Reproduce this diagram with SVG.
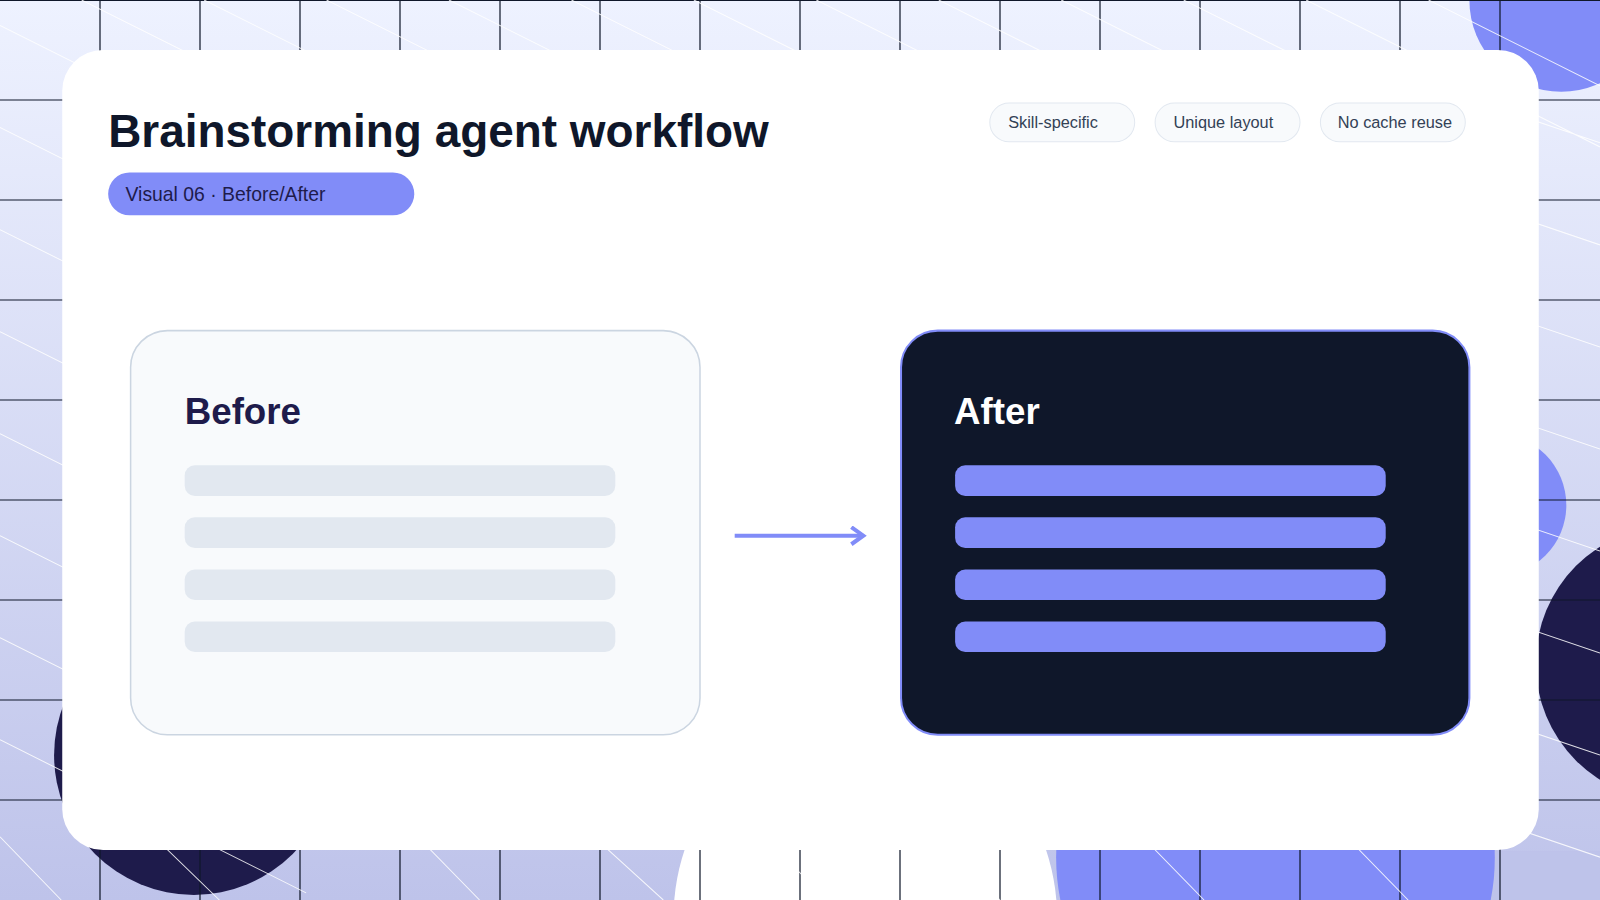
<svg xmlns="http://www.w3.org/2000/svg" width="1600" height="900" viewBox="0 0 1600 900">
<defs>
<linearGradient id="bg" x1="0" y1="0" x2="0" y2="1"><stop offset="0" stop-color="#eef2ff"/><stop offset="1" stop-color="#bec3ea"/></linearGradient>
<marker id="ah" viewBox="0 0 12 12" refX="9" refY="6" markerWidth="5" markerHeight="5" orient="auto" markerUnits="strokeWidth"><path d="M2,1 L9,6 L2,11" fill="none" stroke="#818cf8" stroke-width="2.4"/></marker>
<style>
.grid{stroke:#0f172a;stroke-width:1.2}
.diag{stroke:#ffffff;stroke-width:1;opacity:.85}
.tag rect{fill:#f8fafc;stroke:#e2e8f0;stroke-width:1}
.tag text{font-family:"Liberation Sans",Arial,sans-serif;font-size:16px;fill:#334155}
.h{font-family:"Liberation Sans",Arial,sans-serif;font-weight:bold}
</style>
</defs>
<g transform="scale(1.020408)">
<rect width="1568" height="882" fill="url(#bg)"/>
<circle cx="1530" cy="0" r="90" fill="#818cf8"/>
<circle cx="1465" cy="495" r="70" fill="#818cf8"/>
<circle cx="1640" cy="650" r="135" fill="#1e1b4b"/>
<circle cx="190" cy="740" r="137" fill="#1e1b4b"/>
<circle cx="1250" cy="840" r="215" fill="#818cf8"/>
<rect x="1465" y="834" width="103" height="48" fill="#bec3ea"/>
<ellipse cx="848" cy="900" rx="188" ry="200" fill="#ffffff"/>
<g id="grid">
<path class="grid" d="M0,0.5H1568M0,98H1568M0,196H1568M0,294H1568M0,392H1568M0,490H1568M0,588H1568M0,686H1568M0,784H1568M98,0V882M196,0V882M294,0V882M392,0V882M490,0V882M588,0V882M686,0V882M784,0V882M882,0V882M980,0V882M1078,0V882M1176,0V882M1274,0V882M1372,0V882M1470,0V882"/>
<path class="diag" d="M0,25L300,175M0,125L300,275M0,225L300,375M0,325L300,475M0,425L300,575M0,525L300,675M0,625L300,775M0,725L300,875M80,0L380,150M200,0L500,150M320,0L620,150M440,0L740,150M560,0L860,150M680,0L980,150M800,0L1100,150M920,0L1220,150M1040,0L1340,150M1160,0L1460,150M1280,0L1568,144M1400,0L1568,84M1450,100L1568,140M1450,200L1568,240M1450,300L1568,340M1450,400L1568,440M1450,500L1568,540M1450,600L1568,640M1450,700L1568,740M1450,800L1568,840M0,820L60,882M120,790L215,882M380,790L470,882M560,800L650,882M730,800L810,882M900,800L980,882M1100,800L1180,882M1300,800L1380,882"/>
</g>
<rect id="card" x="61" y="49" width="1447" height="784" rx="40" fill="#ffffff"/>
<g id="title"><text class="h" x="106" y="144" font-size="45" fill="#0f172a">Brainstorming agent workflow</text></g>
<g id="pill"><rect x="106" y="169" width="300" height="42" rx="21" fill="#818cf8"/><text x="123" y="197" font-family="Liberation Sans,Arial,sans-serif" font-size="19" fill="#1e1b4b">Visual 06 · Before/After</text></g>
<g id="tag1" class="tag"><rect x="970" y="101" width="142" height="38" rx="19"/><text x="988" y="125">Skill-specific</text></g>
<g id="tag2" class="tag"><rect x="1132" y="101" width="142" height="38" rx="19"/><text x="1150" y="125">Unique layout</text></g>
<g id="tag3" class="tag"><rect x="1294" y="101" width="142" height="38" rx="19"/><text x="1311" y="125">No cache reuse</text></g>
<g id="before">
<rect x="128" y="324" width="558" height="396" rx="36" fill="#f8fafc" stroke="#cbd5e1" stroke-width="1.5"/>
<text class="h" x="181" y="416" font-size="36" fill="#1e1b4b">Before</text>
<g fill="#e2e8f0"><rect x="181" y="456" width="422" height="30" rx="10"/><rect x="181" y="507" width="422" height="30" rx="10"/><rect x="181" y="558" width="422" height="30" rx="10"/><rect x="181" y="609" width="422" height="30" rx="10"/></g>
</g>
<g id="after">
<rect x="883" y="324" width="557" height="396" rx="36" fill="#0f172a" stroke="#818cf8" stroke-width="2"/>
<text class="h" x="935" y="416" font-size="36" fill="#ffffff">After</text>
<g fill="#818cf8"><rect x="936" y="456" width="422" height="30" rx="10"/><rect x="936" y="507" width="422" height="30" rx="10"/><rect x="936" y="558" width="422" height="30" rx="10"/><rect x="936" y="609" width="422" height="30" rx="10"/></g>
</g>
<g id="connectors"><line x1="720" y1="525" x2="846" y2="525" stroke="#818cf8" stroke-width="4" marker-end="url(#ah)"/></g>
</g>
</svg>
